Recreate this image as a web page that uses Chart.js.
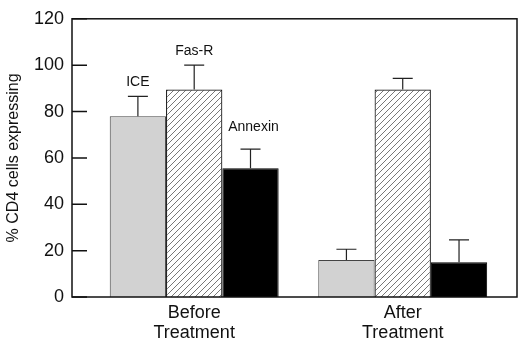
<!DOCTYPE html>
<html>
<head>
<meta charset="utf-8">
<script src="https://cdn.jsdelivr.net/npm/chart.js@4"></script>
<style>
  html, body { margin: 0; padding: 0; background: #fff; }
  #wrap { width: 520px; height: 340px; }
</style>
</head>
<body>
<div id="wrap"><canvas id="chart" width="520" height="340"></canvas></div>
<script>
const groups = [['Before', 'Treatment'], ['After', 'Treatment']];
const groupPos = [1, 2];
const seriesNames = ['ICE', 'Fas-R', 'Annexin'];
const iceValues = [78, 16];
const iceErrors = [8.5, 4.6];
const fasValues = [89.5, 89.5];
const fasErrors = [10.5, 4.8];
const annexinValues = [55.5, 15];
const annexinErrors = [8.3, 9.6];
const yTicks = [0, 20, 40, 60, 80, 100, 120];

const font = "'Liberation Sans', Arial, sans-serif";

function hatchPattern() {
  const c = document.createElement('canvas');
  c.width = 6; c.height = 6;
  const g = c.getContext('2d');
  g.fillStyle = '#fff';
  g.fillRect(0, 0, 6, 6);
  g.strokeStyle = '#555';
  g.lineWidth = 0.8;
  g.beginPath();
  g.moveTo(0, 6); g.lineTo(6, 0);
  g.moveTo(-1, 1); g.lineTo(1, -1);
  g.moveTo(5, 7); g.lineTo(7, 5);
  g.stroke();
  return g.createPattern(c, 'repeat');
}

function toPoints(vals) {
  return vals.map((v, i) => ({ x: groupPos[i], y: v }));
}

// error bars (upward only) + labels over the first group
const extras = {
  id: 'extras',
  afterDatasetsDraw(chart) {
    const ctx = chart.ctx;
    const y = chart.scales.y;
    ctx.save();
    ctx.strokeStyle = '#222';
    ctx.lineWidth = 1.2;
    chart.data.datasets.forEach((ds, di) => {
      const meta = chart.getDatasetMeta(di);
      meta.data.forEach((bar, i) => {
        const top = y.getPixelForValue(ds.data[i].y + ds.errors[i]);
        ctx.beginPath();
        ctx.moveTo(bar.x, bar.y);
        ctx.lineTo(bar.x, top);
        ctx.moveTo(bar.x - 10, top);
        ctx.lineTo(bar.x + 10, top);
        ctx.stroke();
        if (i === 0) {
          ctx.fillStyle = '#111';
          ctx.font = '14px ' + font;
          ctx.textAlign = 'center';
          ctx.textBaseline = 'middle';
          const gap = di === 2 ? 22 : 14;
          ctx.fillText(ds.label, bar.x + (di === 2 ? 3 : 0), top - gap);
        }
      });
    });
    ctx.restore();
  },
  afterDraw(chart) {
    const ctx = chart.ctx;
    const a = chart.chartArea;
    const y = chart.scales.y;
    ctx.save();
    ctx.strokeStyle = '#111';
    ctx.lineWidth = 1.5;
    ctx.strokeRect(a.left, a.top, a.right - a.left, a.bottom - a.top);
    ctx.beginPath();
    yTicks.forEach(t => {
      const py = y.getPixelForValue(t);
      ctx.moveTo(a.left, py);
      ctx.lineTo(a.left + 15, py);
    });
    ctx.stroke();
    ctx.restore();
  }
};

new Chart(document.getElementById('chart'), {
  type: 'bar',
  data: {
    datasets: [
      { label: seriesNames[0], data: toPoints(iceValues), errors: iceErrors,
        backgroundColor: '#d2d2d2', borderColor: '#444', borderWidth: 1 },
      { label: seriesNames[1], data: toPoints(fasValues), errors: fasErrors,
        backgroundColor: hatchPattern(), borderColor: '#111', borderWidth: 1.2 },
      { label: seriesNames[2], data: toPoints(annexinValues), errors: annexinErrors,
        backgroundColor: '#000', borderColor: '#000', borderWidth: 1 }
    ]
  },
  options: {
    responsive: false,
    animation: false,
    layout: { padding: { top: 7, right: 3, left: 0, bottom: 0 } },
    datasets: { bar: { barPercentage: 1, categoryPercentage: 0.81 } },
    plugins: { legend: { display: false }, tooltip: { enabled: false } },
    scales: {
      x: {
        type: 'linear',
        offset: false,
        min: 0.414,
        max: 2.548,
        afterBuildTicks(scale) { scale.ticks = groupPos.map(v => ({ value: v })); },
        afterFit(scale) { scale.height = 43; },
        grid: { display: false, drawTicks: false },
        border: { display: false },
        ticks: {
          color: '#111',
          font: { family: font, size: 18, lineHeight: 1.1 },
          padding: 6,
          callback: (v) => groups[groupPos.indexOf(v)] || ''
        }
      },
      y: {
        min: 0,
        max: 120,
        afterBuildTicks(scale) { scale.ticks = yTicks.map(v => ({ value: v })); },
        afterFit(scale) { scale.width = 72; },
        grid: { display: false, drawTicks: false },
        border: { display: false },
        ticks: { color: '#111', font: { family: font, size: 18 }, padding: 8 },
        title: {
          display: true,
          text: '% CD4 cells expressing',
          color: '#111',
          font: { family: font, size: 16 },
          padding: { top: 4, bottom: 0 }
        }
      }
    }
  },
  plugins: [extras]
});
</script>
</body>
</html>
